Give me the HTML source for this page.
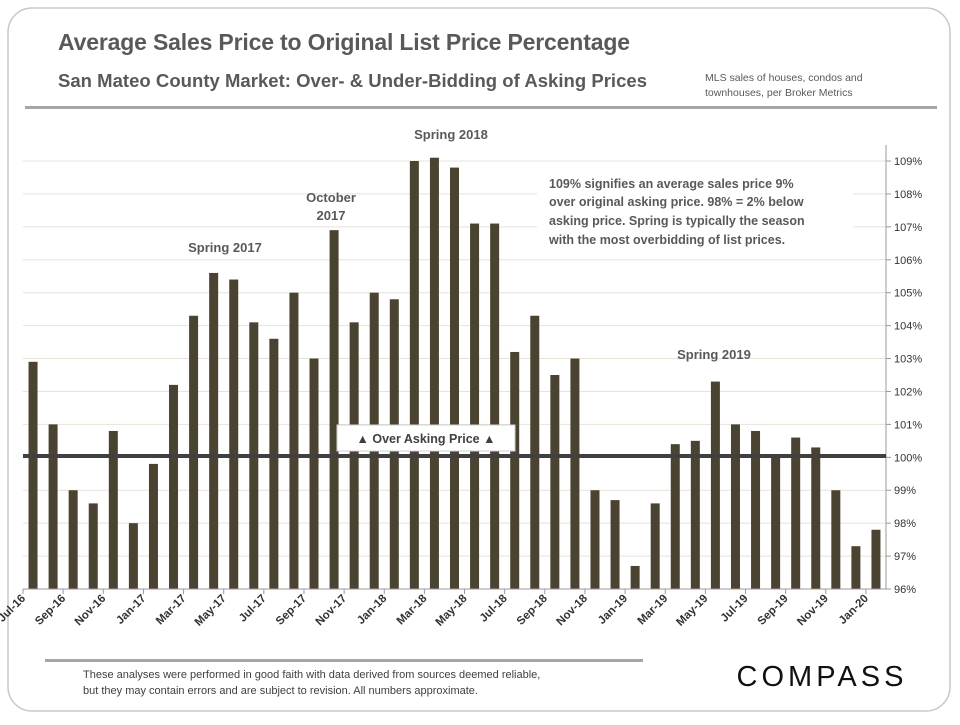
<!DOCTYPE html>
<html><head><meta charset="utf-8"><style>
body{margin:0;background:#fff;width:960px;height:720px;overflow:hidden;font-family:"Liberation Sans",sans-serif}
</style></head><body>
<svg width="960" height="720" xmlns="http://www.w3.org/2000/svg" font-family="Liberation Sans, sans-serif">
<rect x="8" y="8" width="942" height="703" rx="24" fill="#fff" stroke="#c8c8c8" stroke-width="1.5"/>
<text x="58" y="50" font-size="23" font-weight="bold" fill="#595959" textLength="572">Average Sales Price to Original List Price Percentage</text>
<text x="58" y="87" font-size="18.5" font-weight="bold" fill="#595959" textLength="589">San Mateo County Market: Over- &amp; Under-Bidding of Asking Prices</text>
<text x="705" y="81" font-size="10.5" fill="#595959">MLS sales of houses, condos and</text>
<text x="705" y="96" font-size="10.5" fill="#595959">townhouses, per Broker Metrics</text>
<rect x="25" y="106" width="912" height="3" fill="#a6a6a6"/>
<g id="grid"></g>
<g id="bars"></g>
<g id="axes"></g>
<g>
<rect x="537" y="170" width="316" height="88" fill="#fff"/>
<text font-size="12.5" font-weight="bold" fill="#595959">
<tspan x="549" y="188">109% signifies an average sales price 9%</tspan>
<tspan x="549" y="206">over original asking price. 98% = 2% below</tspan>
<tspan x="549" y="225">asking price. Spring is typically the season</tspan>
<tspan x="549" y="244">with the most overbidding of list prices.</tspan>
</text></g>
<text x="451" y="139" font-size="13" font-weight="bold" fill="#595959" text-anchor="middle">Spring 2018</text>
<text x="331" y="202" font-size="13" font-weight="bold" fill="#595959" text-anchor="middle">October</text>
<text x="331" y="220" font-size="13" font-weight="bold" fill="#595959" text-anchor="middle">2017</text>
<text x="225" y="252" font-size="13" font-weight="bold" fill="#595959" text-anchor="middle">Spring 2017</text>
<text x="714" y="359" font-size="13" font-weight="bold" fill="#595959" text-anchor="middle">Spring 2019</text>
<rect x="23" y="454" width="863" height="4" fill="#404040"/>
<g>
<rect x="337" y="425" width="178" height="26" fill="#fff" stroke="#d0d0d0"/>
<text x="426" y="443" font-size="12.5" font-weight="bold" fill="#404040" text-anchor="middle">▲ Over Asking Price ▲</text></g>
<rect x="45" y="659" width="598" height="3" fill="#a6a6a6"/>
<text font-size="11" fill="#404040"><tspan x="83" y="678">These analyses were performed in good faith with data derived from sources deemed reliable,</tspan><tspan x="83" y="694">but they may contain errors and are subject to revision. All numbers approximate.</tspan></text>
<text x="822" y="686" font-size="29" fill="#111" text-anchor="middle" letter-spacing="4">COMPASS</text>
</svg>
<script>
const categories=["Jul-16","Aug-16","Sep-16","Oct-16","Nov-16","Dec-16","Jan-17","Feb-17","Mar-17","Apr-17","May-17","Jun-17","Jul-17","Aug-17","Sep-17","Oct-17","Nov-17","Dec-17","Jan-18","Feb-18","Mar-18","Apr-18","May-18","Jun-18","Jul-18","Aug-18","Sep-18","Oct-18","Nov-18","Dec-18","Jan-19","Feb-19","Mar-19","Apr-19","May-19","Jun-19","Jul-19","Aug-19","Sep-19","Oct-19","Nov-19","Dec-19","Jan-20"];
const values=[102.9,101.0,99.0,98.6,100.8,98.0,99.8,102.2,104.3,105.6,105.4,104.1,103.6,105.0,103.0,106.9,104.1,105.0,104.8,109.0,109.1,108.8,107.1,107.1,103.2,104.3,102.5,103.0,99.0,98.7,96.7,98.6,100.4,100.5,102.3,101.0,100.8,100.1,100.6,100.3,99.0,97.3,97.8];
const yTicks=[96,97,98,99,100,101,102,103,104,105,106,107,108,109];
const NS="http://www.w3.org/2000/svg";
const X0=23,X1=886,Y0=589,Y1=161,YMIN=96,YMAX=109;
const band=(X1-X0)/categories.length;
const xS=i=>X0+band*(i+0.5);
const yS=v=>Y0-(v-YMIN)/(YMAX-YMIN)*(Y0-Y1);
function mk(t,a,p){const e=document.createElementNS(NS,t);for(const k in a)e.setAttribute(k,a[k]);p.appendChild(e);return e;}
const grid=document.getElementById('grid'),bars=document.getElementById('bars'),axes=document.getElementById('axes');
yTicks.forEach(v=>{
 const g=mk('line',{x1:X0,x2:X1,y1:yS(v),y2:yS(v),stroke:'#e4e4d8','stroke-width':1},grid);
 
 
 const tk=mk('line',{x1:X1,x2:X1+5,y1:yS(v),y2:yS(v),stroke:'#999'},axes);
 
 
 const t=mk('text',{x:X1+8,y:yS(v)+4,'font-size':11,fill:'#333'},axes);
 t.textContent=v+'%';
 
 
});
values.forEach((v,i)=>{
 const top=yS(v);
 const r=mk('rect',{x:xS(i)-4.5,y:top,width:9,height:Y0-top,fill:'#4a4331'},bars);
 
 
});
const ax=mk('line',{x1:X0,x2:X1,y1:Y0,y2:Y0,stroke:'#999'},axes);


const ay=mk('line',{x1:X1,x2:X1,y1:145,y2:Y0,stroke:'#999'},axes);


categories.forEach((c,i)=>{
 if(i%2)return;
 const x=X0+band*i;
 const tk=mk('line',{x1:x,x2:x,y1:Y0,y2:Y0+5,stroke:'#999'},axes);
 
 
 const t=mk('text',{x:x+3,y:Y0+10,'font-size':11.5,'font-weight':'bold',fill:'#333','text-anchor':'end',transform:`rotate(-45 ${x+3} ${Y0+10})`},axes);
 t.textContent=c;
 
 
});
</script>
</body></html>
